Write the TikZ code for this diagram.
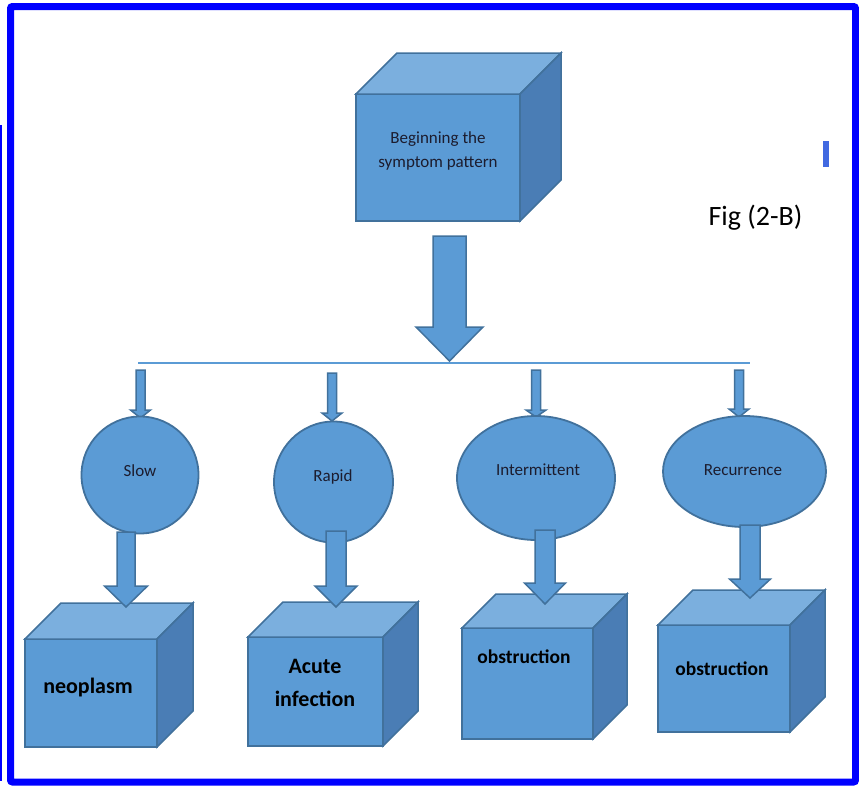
\documentclass[tikz,border=0pt]{standalone}
\usepackage{fontspec}
\setmainfont{Carlito}
\usetikzlibrary{calc,shapes.geometric}
\definecolor{fillb}{HTML}{5B9BD5}
\definecolor{topb}{HTML}{7BAFDE}
\definecolor{sideb}{HTML}{4A7DB5}
\definecolor{edgeb}{HTML}{41719C}
\definecolor{txt}{HTML}{1C1C2E}
\definecolor{markb}{HTML}{4169E1}
\definecolor{frameb}{HTML}{0000FF}

% block arrow: x-centre, top, tip, half shaft, half head, head start
\newcommand{\barrow}[6]{%
  \draw[blockarr] (#1-#4,#2) -- (#1+#4,#2) -- (#1+#4,#6) -- (#1+#5,#6) -- (#1,#3)
    -- (#1-#5,#6) -- (#1-#4,#6) -- cycle;}
% cube: name, left, top, right, bottom, depth
\newcommand{\cubebox}[6]{%
  \node[frontface, minimum width={(#4-#2)*1pt}, minimum height={(#5-#3)*1pt}]
    (#1) at ({(#2+#4)/2},{(#3+#5)/2}) {};
  \draw[topface] (#1.north west) -- ++(#6,-#6) -- ($(#1.north east)+(#6,-#6)$)
    -- (#1.north east) -- cycle;
  \draw[sideface] (#1.north east) -- ++(#6,-#6) -- ($(#1.south east)+(#6,-#6)$)
    -- (#1.south east) -- cycle;}

\begin{document}
\begin{tikzpicture}[x=1pt,y=-1pt,
  face/.style={draw=edgeb, line width=1.5pt, line join=miter},
  frontface/.style={face, fill=fillb, rectangle, inner sep=0pt, outer sep=0pt},
  topface/.style={face, fill=topb},
  sideface/.style={face, fill=sideb},
  blockarr/.style={draw=edgeb, fill=fillb, line width=1.5pt, line join=miter},
  bubble/.style={ellipse, draw=edgeb, fill=fillb, line width=1.8pt, inner sep=0pt, outer sep=0pt},
  small/.style={text=txt, font=\fontsize{17}{24}\selectfont, align=center, inner sep=0pt},
  big/.style={text=black, font=\fontsize{22}{33}\selectfont\bfseries, align=center, inner sep=0pt},
  mid/.style={text=black, font=\fontsize{19.5}{24}\selectfont\bfseries, align=center, inner sep=0pt}]
\useasboundingbox (0,0) rectangle (859,787);

% frame
\draw[frameb, line width=7pt, rounded corners=2pt] (10.5,6.5) rectangle (855.5,782);
\draw[frameb, line width=1.5pt] (0.75,125) -- (0.75,781);
\fill[markb] (823,141) rectangle (829,167);

% bus line
\coordinate (busL) at (138,362.5);
\coordinate (busR) at (750,362.5);
\draw[fillb, line width=2pt] (busL) -- (busR);

% top cube and main arrow
\barrow{449.5}{236}{361}{16.5}{33.5}{327}
\cubebox{start}{356}{94}{520}{221}{41}

% small arrows from bus
\barrow{140.5}{370}{418}{4.5}{10}{410}
\barrow{332}{373}{421}{4.5}{10}{413}
\barrow{536}{370}{417}{4.5}{10}{410}
\barrow{739}{370}{417}{4.5}{10}{409}

% bubbles
\node[bubble, minimum width=117pt, minimum height=117pt] (slow) at (140,475) {};
\node[bubble, minimum width=119pt, minimum height=121pt] (rapid) at (333.5,482) {};
\node[bubble, minimum width=158pt, minimum height=124pt] (inter) at (536,478) {};
\node[bubble, minimum width=163pt, minimum height=111pt] (recur) at (744.5,471.5) {};

% bottom cubes
\cubebox{neo}{25}{639}{157}{747}{36}
\cubebox{acute}{248}{637}{383}{746}{35}
\cubebox{obs1}{462}{628}{593}{739}{34}
\cubebox{obs2}{658}{625}{790}{732}{35}

% arrows from bubbles to cubes
\barrow{126}{532}{607}{9}{21.5}{586}
\barrow{336}{531}{607}{10}{21}{586}
\barrow{545}{530}{604}{10}{20.5}{583}
\barrow{750}{525}{598}{10}{20.5}{579}

% texts
\node[small] (tstart) at (438,151) {Beginning the\\symptom pattern};
\node[small] (tslow) at (140,471) {Slow};
\node[small] (trapid) at (333,477) {Rapid};
\node[small] (tinter) at (538,470) {Intermittent};
\node[small] (trecur) at (743,470) {Recurrence};
\node[big] (tneo) at (88,688) {neoplasm};
\node[big] (tacute) at (315,683) {Acute\\infection};
\node[mid] (tobs1) at (524,657) {obstruction};
\node[mid] (tobs2) at (722,669) {obstruction};
\node[text=black, font=\fontsize{28}{32}\selectfont, inner sep=0pt] (fig) at (755.5,218) {Fig (2-B)};
\end{tikzpicture}
\end{document}
